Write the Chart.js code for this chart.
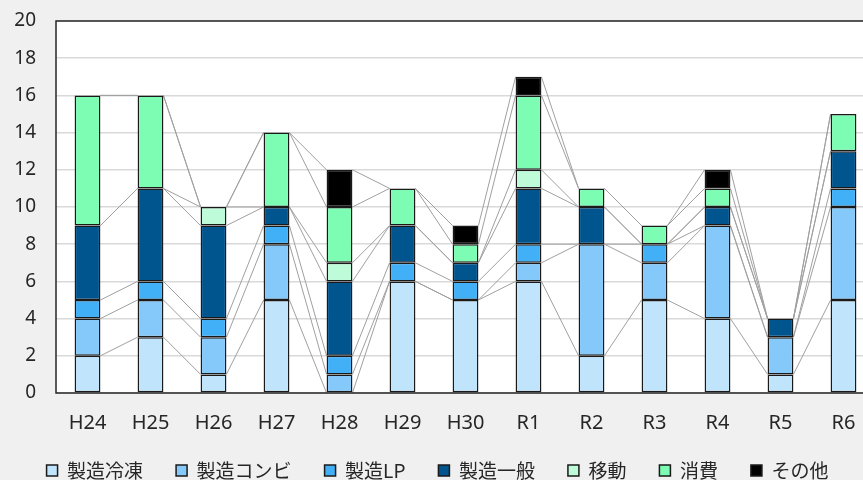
<!DOCTYPE html>
<html lang="ja">
<head>
<meta charset="utf-8">
<script src="https://cdn.jsdelivr.net/npm/chart.js@4"></script>
<style>
  html, body { margin: 0; padding: 0; background: #f0f0f0; overflow: hidden; }
  #wrap { width: 880px; height: 480px; }
</style>
</head>
<body>
<div id="wrap"><canvas id="chart" width="880" height="480"></canvas></div>
<script>
// Data
const categories = ['H24', 'H25', 'H26', 'H27', 'H28', 'H29', 'H30', 'R1', 'R2', 'R3', 'R4', 'R5', 'R6'];
const seizoReito  = [2, 3, 1, 5, 0, 6, 5, 6, 2, 5, 4, 1, 5];
const seizoCombi  = [2, 2, 2, 3, 1, 0, 0, 1, 6, 2, 5, 2, 5];
const seizoLP     = [1, 1, 1, 1, 1, 1, 1, 1, 0, 1, 0, 0, 1];
const seizoIppan  = [4, 5, 5, 1, 4, 2, 1, 3, 2, 0, 1, 1, 2];
const idou        = [0, 0, 1, 0, 1, 0, 0, 1, 0, 0, 0, 0, 0];
const shohi       = [7, 5, 0, 4, 3, 2, 1, 4, 1, 1, 1, 0, 2];
const sonota      = [0, 0, 0, 0, 2, 0, 1, 1, 0, 0, 1, 0, 0];
const yTicks = [0, 2, 4, 6, 8, 10, 12, 14, 16, 18, 20];

const series = [
    { label: '製造冷凍', data: seizoReito, color: '#bfe4fc' },
    { label: '製造コンビ', data: seizoCombi, color: '#85c8fa' },
    { label: '製造LP', data: seizoLP, color: '#42b0f7' },
    { label: '製造一般', data: seizoIppan, color: '#00558f' },
    { label: '移動', data: idou, color: '#bdfbd9' },
    { label: '消費', data: shohi, color: '#7dfcb3' },
    { label: 'その他', data: sonota, color: '#000000' }
];

const xFont = { family: '"Noto Sans", "Noto Sans CJK JP", sans-serif', size: 20 };
const yFont = { family: '"Noto Sans", "Noto Sans CJK JP", sans-serif', size: 19 };
const legendFont = { family: '"Noto Sans CJK JP", sans-serif', size: 19 };

// white plot area + dark frame
const plotFrame = {
    id: 'plotFrame',
    beforeDraw(chart) {
        const { ctx, chartArea: a } = chart;
        ctx.save();
        ctx.fillStyle = '#ffffff';
        ctx.fillRect(a.left, a.top, a.right - a.left, a.bottom - a.top);
        ctx.restore();
    },
    afterDatasetsDraw(chart) {
        const { ctx, chartArea: a } = chart;
        ctx.save();
        ctx.strokeStyle = '#262626';
        ctx.lineWidth = 1.5;
        ctx.strokeRect(a.left, a.top, a.right - a.left, a.bottom - a.top);
        ctx.restore();
    }
};

// the x axis is kept short for layout; let its labels spill below it,
// and push the legend row a little lower
const layoutTweak = {
    id: 'layoutTweak',
    afterLayout(chart) {
        chart.scales.x.bottom += 40;
        if (chart.legend) {
            chart.legend.top += 10;
            chart.legend.bottom += 10;
        }
    }
};

// Excel-style series lines between the stacks
const seriesLines = {
    id: 'seriesLines',
    beforeDatasetsDraw(chart) {
        const { ctx } = chart;
        ctx.save();
        ctx.strokeStyle = '#a0a0a0';
        ctx.lineWidth = 1;
        chart.data.datasets.forEach((ds, k) => {
            const pts = chart.getDatasetMeta(k).data;
            for (let i = 0; i < pts.length - 1; i++) {
                const p = pts[i], q = pts[i + 1];
                ctx.beginPath();
                ctx.moveTo(p.x + p.width / 2, p.y);
                ctx.lineTo(q.x - q.width / 2, q.y);
                ctx.stroke();
            }
        });
        ctx.restore();
    }
};

new Chart(document.getElementById('chart'), {
    type: 'bar',
    data: {
        labels: categories,
        datasets: series.map(s => ({
            label: s.label,
            data: s.data,
            backgroundColor: s.color,
            borderColor: '#1a1a1a',
            borderWidth: 1.5,
            borderSkipped: false,
            categoryPercentage: 1,
            barPercentage: 0.41
        }))
    },
    options: {
        responsive: false,
        animation: false,
        layout: { padding: { top: 21, right: 5, bottom: 0, left: 0 } },
        scales: {
            x: {
                stacked: true,
                grid: { display: false },
                border: { display: false },
                ticks: { color: '#262626', font: xFont, padding: 10, maxRotation: 0 },
                afterFit: s => { s.height = 25; }
            },
            y: {
                stacked: true,
                min: 0,
                max: 20,
                afterBuildTicks: s => { s.ticks = yTicks.map(v => ({ value: v })); },
                grid: { color: '#d9d9d9', lineWidth: 1.5, drawTicks: false },
                border: { display: false },
                ticks: { color: '#262626', font: yFont, padding: 20 },
                afterFit: s => { s.width = 56; s.paddingTop = 0; s.paddingBottom = 0; }
            }
        },
        plugins: {
            legend: {
                position: 'bottom',
                labels: {
                    font: legendFont,
                    color: '#262626',
                    boxWidth: 11,
                    boxHeight: 11,
                    padding: 33
                }
            },
            tooltip: { enabled: false }
        }
    },
    plugins: [plotFrame, seriesLines, layoutTweak]
});
</script>
</body>
</html>
